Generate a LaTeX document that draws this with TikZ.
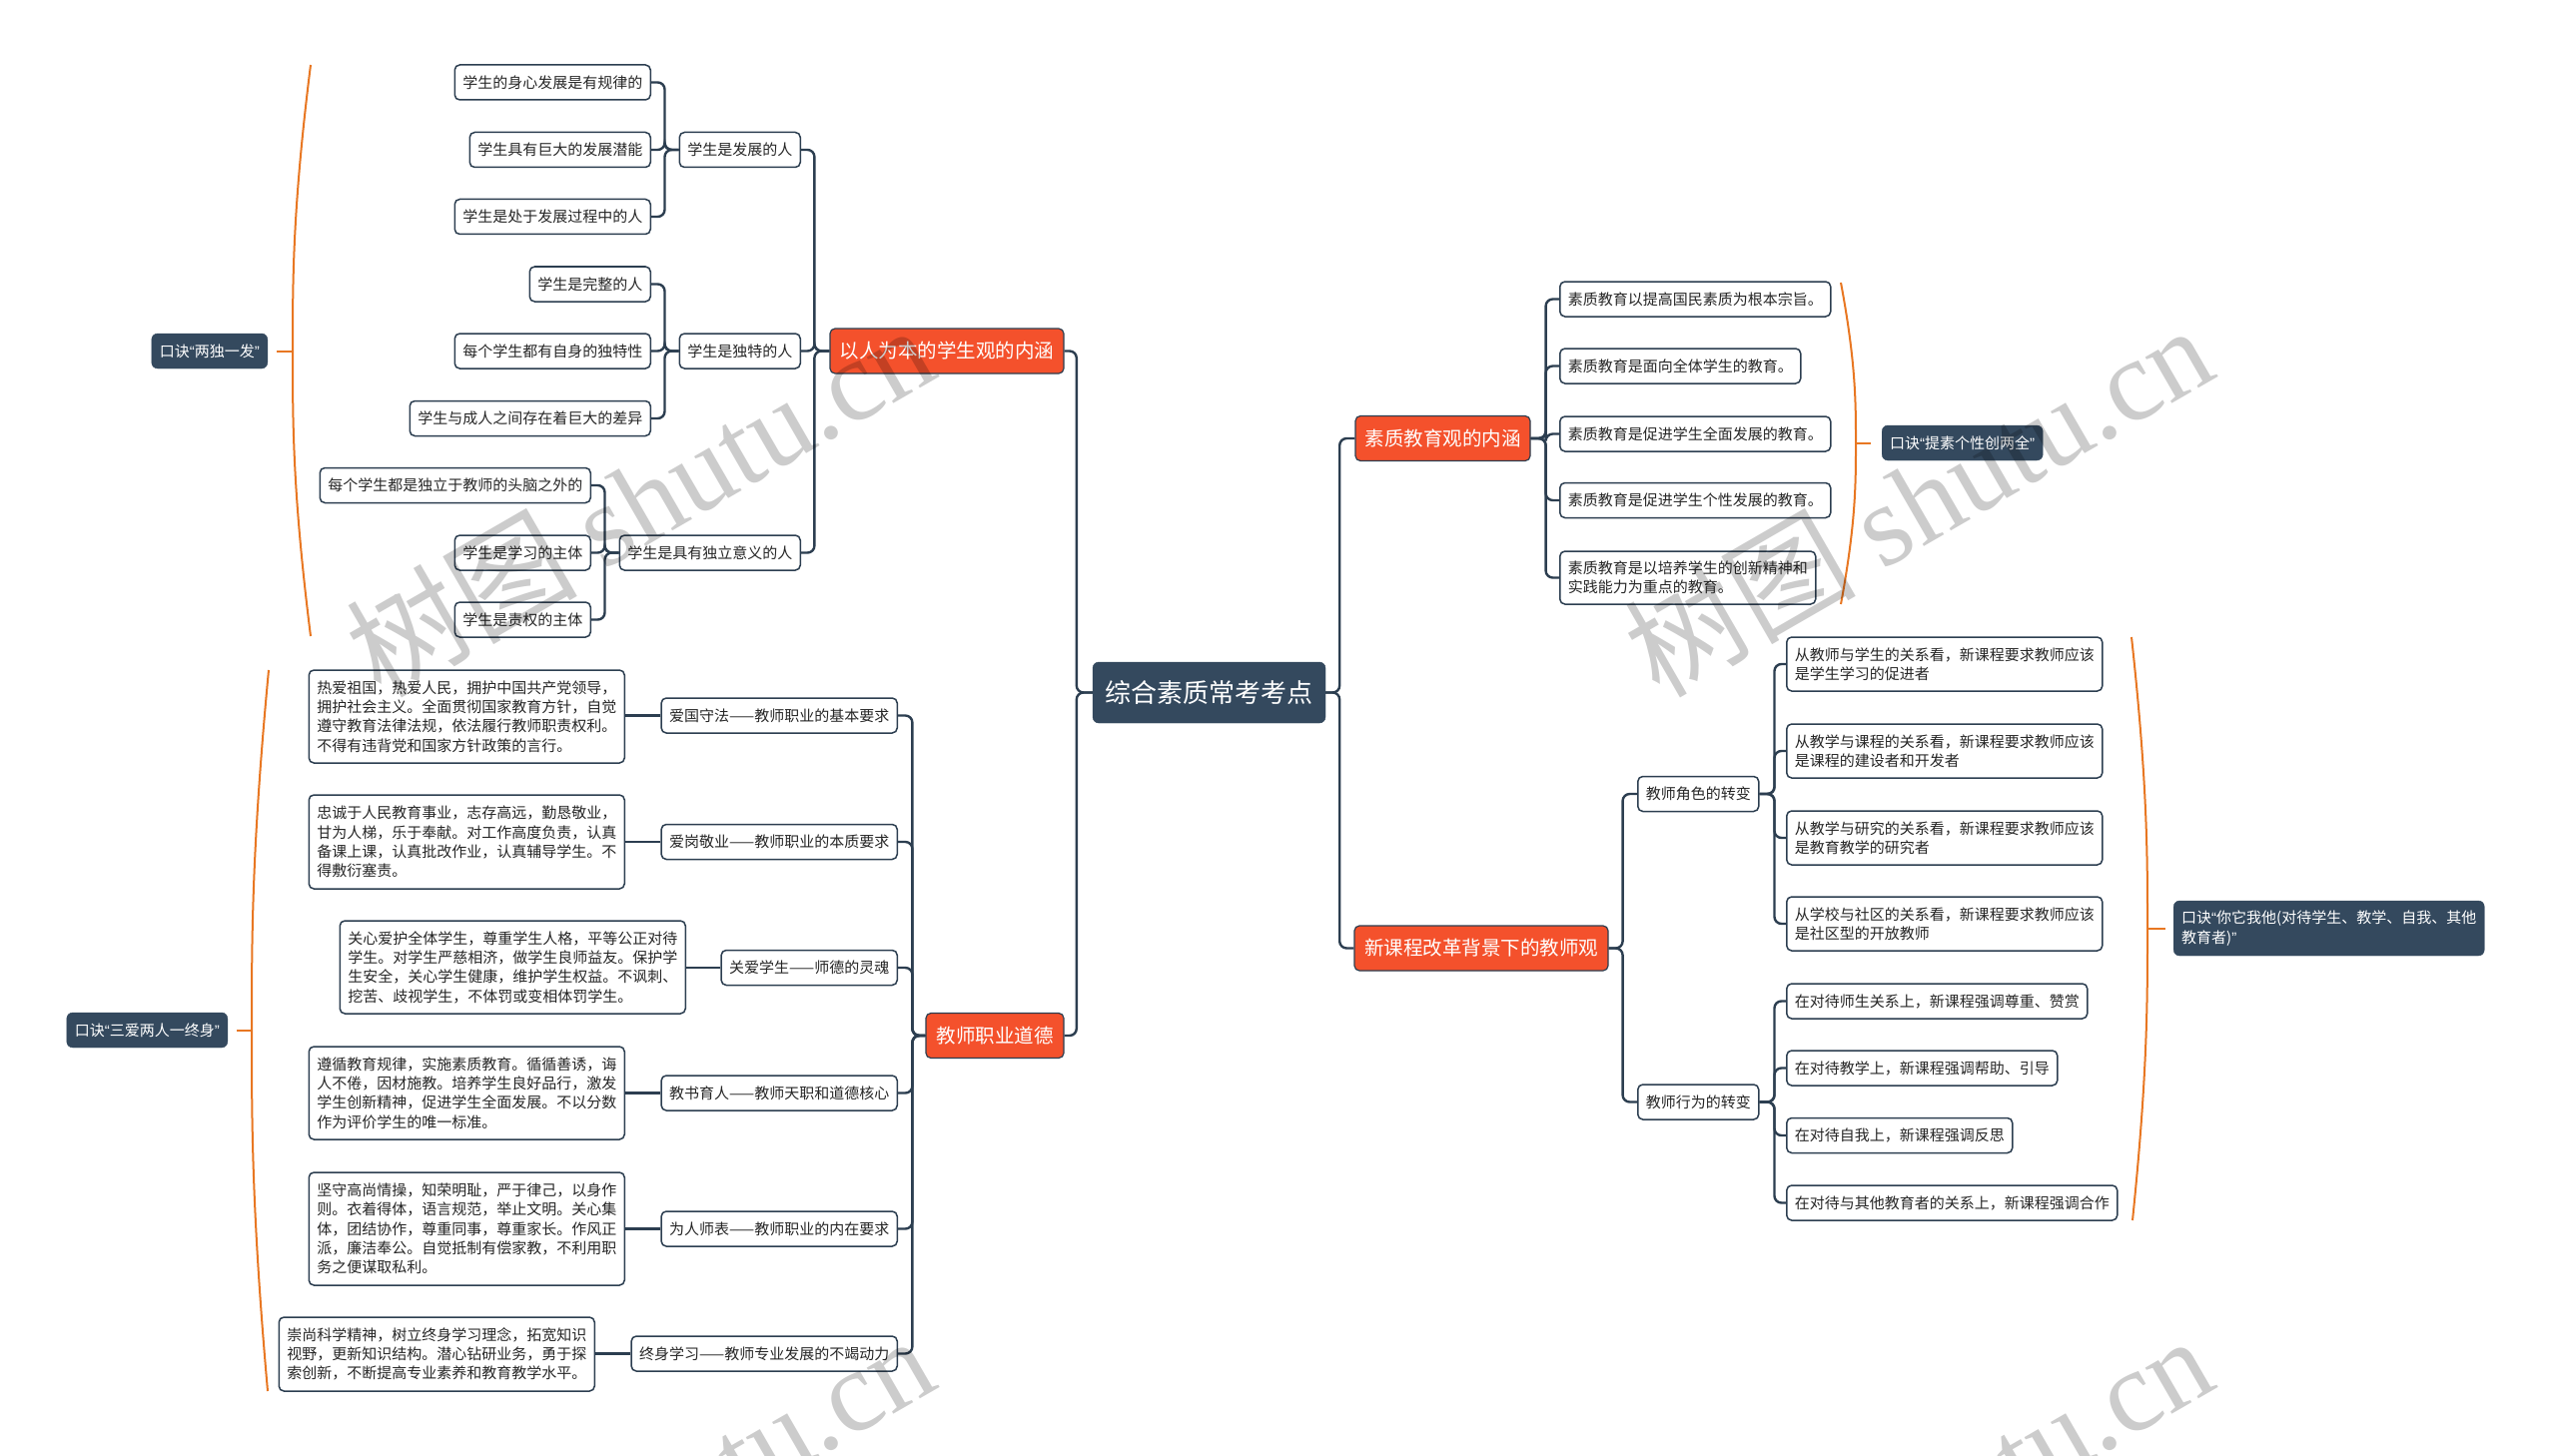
\documentclass[tikz,border=0pt]{standalone}
\usepackage{fontspec}
\setmainfont{Noto Sans CJK SC}
\newfontfamily\latq{Liberation Sans}
\newfontfamily\wmserif{Liberation Serif}
\definecolor{edge}{HTML}{2C3E50}
\definecolor{navy}{HTML}{34495E}
\definecolor{hot}{HTML}{F4512C}
\definecolor{brace}{HTML}{E87722}
\newcommand{\qopen}{{\latq “}}
\newcommand{\qclose}{{\latq ”}}
\tikzset{
  conn/.style={draw=edge, line width=2.4pt, rounded corners=7pt},
  leaf/.style={draw=edge, line width=1.5pt, rounded corners=5pt, fill=white, inner xsep=8pt, inner ysep=0pt, minimum height=35pt, align=left, font=\fontsize{15}{19.3}\selectfont, text=black!85},
  main/.style={draw=edge, line width=1.2pt, rounded corners=5pt, fill=hot, text=white, font=\fontsize{19.5}{24}\selectfont, inner sep=0pt, minimum height=45pt},
  rootbox/.style={draw=navy, fill=navy, rounded corners=6pt, text=white, font=\fontsize{26}{30}\selectfont, inner sep=0pt},
  sumbox/.style={draw=navy, fill=navy, text=white, rounded corners=6pt, inner xsep=8pt, inner ysep=0pt, minimum height=35pt, align=left, font=\fontsize{15}{19.3}\selectfont},
  bracket/.style={draw=brace, line width=2pt},
  wm/.style={text=black, opacity=0.2, font=\fontsize{116}{116}\selectfont, inner sep=0pt}
}
\begin{document}
\begin{tikzpicture}[x=1pt,y=-1pt]
\fill[white] (0,0) rectangle (2560,1458);
\useasboundingbox (0,0) rectangle (2560,1458);
\clip (0,0) rectangle (2560,1458);

% root and main branches
\node[rootbox, minimum width=233pt, minimum height=61pt] (R) at (1210.5,693.5) {综合素质常考考点};
\node[main, minimum width=234pt] (A) at (948,351.5) {以人为本的学生观的内涵};
\node[main, minimum width=138pt] (D) at (996,1037) {教师职业道德};
\node[main, minimum width=175pt] (B) at (1444.5,439) {素质教育观的内涵};
\node[main, minimum width=254pt] (C) at (1483,949.5) {新课程改革背景下的教师观};

% A subtree
\node[leaf, anchor=east] (A1) at (802,150) {学生是发展的人};
\node[leaf, anchor=east] (A2) at (802,351.5) {学生是独特的人};
\node[leaf, anchor=east] (A3) at (802,553.5) {学生是具有独立意义的人};
\node[leaf, anchor=east] (a11) at (652,82.5) {学生的身心发展是有规律的};
\node[leaf, anchor=east] (a12) at (652,150) {学生具有巨大的发展潜能};
\node[leaf, anchor=east] (a13) at (652,217) {学生是处于发展过程中的人};
\node[leaf, anchor=east] (a21) at (652,284.5) {学生是完整的人};
\node[leaf, anchor=east] (a22) at (652,351.5) {每个学生都有自身的独特性};
\node[leaf, anchor=east] (a23) at (652,419) {学生与成人之间存在着巨大的差异};
\node[leaf, anchor=east] (a31) at (592,486) {每个学生都是独立于教师的头脑之外的};
\node[leaf, anchor=east] (a32) at (592,553.5) {学生是学习的主体};
\node[leaf, anchor=east] (a33) at (592,620.5) {学生是责权的主体};

% D subtree
\node[leaf, anchor=east] (D1) at (899,716.5) {爱国守法——教师职业的基本要求};
\node[leaf, anchor=east] (D2) at (899,843) {爱岗敬业——教师职业的本质要求};
\node[leaf, anchor=east] (D3) at (899,969) {关爱学生——师德的灵魂};
\node[leaf, anchor=east] (D4) at (899,1094.5) {教书育人——教师天职和道德核心};
\node[leaf, anchor=east] (D5) at (899,1230.5) {为人师表——教师职业的内在要求};
\node[leaf, anchor=east] (D6) at (899,1355.5) {终身学习——教师专业发展的不竭动力};
\node[leaf, anchor=east, minimum height=93pt] (D1t) at (626,717.5) {热爱祖国，热爱人民，拥护中国共产党领导，\\拥护社会主义。全面贯彻国家教育方针，自觉\\遵守教育法律法规，依法履行教师职责权利。\\不得有违背党和国家方针政策的言行。};
\node[leaf, anchor=east, minimum height=94pt] (D2t) at (626,843) {忠诚于人民教育事业，志存高远，勤恳敬业，\\甘为人梯，乐于奉献。对工作高度负责，认真\\备课上课，认真批改作业，认真辅导学生。不\\得敷衍塞责。};
\node[leaf, anchor=east, minimum height=93pt] (D3t) at (687,968.5) {关心爱护全体学生，尊重学生人格，平等公正对待\\学生。对学生严慈相济，做学生良师益友。保护学\\生安全，关心学生健康，维护学生权益。不讽刺、\\挖苦、歧视学生，不体罚或变相体罚学生。};
\node[leaf, anchor=east, minimum height=93pt] (D4t) at (626,1094.5) {遵循教育规律，实施素质教育。循循善诱，诲\\人不倦，因材施教。培养学生良好品行，激发\\学生创新精神，促进学生全面发展。不以分数\\作为评价学生的唯一标准。};
\node[leaf, anchor=east, minimum height=113pt] (D5t) at (626,1230.5) {坚守高尚情操，知荣明耻，严于律己，以身作\\则。衣着得体，语言规范，举止文明。关心集\\体，团结协作，尊重同事，尊重家长。作风正\\派，廉洁奉公。自觉抵制有偿家教，不利用职\\务之便谋取私利。};
\node[leaf, anchor=east, minimum height=74pt] (D6t) at (596,1356) {崇尚科学精神，树立终身学习理念，拓宽知识\\视野，更新知识结构。潜心钻研业务，勇于探\\索创新，不断提高专业素养和教育教学水平。};

% B subtree
\node[leaf, anchor=west] (B1) at (1561,299.5) {素质教育以提高国民素质为根本宗旨。};
\node[leaf, anchor=west] (B2) at (1561,366.5) {素质教育是面向全体学生的教育。};
\node[leaf, anchor=west] (B3) at (1561,434.5) {素质教育是促进学生全面发展的教育。};
\node[leaf, anchor=west] (B4) at (1561,501) {素质教育是促进学生个性发展的教育。};
\node[leaf, anchor=west, minimum height=53pt] (B5) at (1561,578.5) {素质教育是以培养学生的创新精神和\\实践能力为重点的教育。};

% C subtree
\node[leaf, anchor=west] (C1) at (1639,795) {教师角色的转变};
\node[leaf, anchor=west] (C2) at (1639,1103.5) {教师行为的转变};
\node[leaf, anchor=west, minimum height=54pt] (c11) at (1788,665) {从教师与学生的关系看，新课程要求教师应该\\是学生学习的促进者};
\node[leaf, anchor=west, minimum height=54pt] (c12) at (1788,752) {从教学与课程的关系看，新课程要求教师应该\\是课程的建设者和开发者};
\node[leaf, anchor=west, minimum height=54pt] (c13) at (1788,839) {从教学与研究的关系看，新课程要求教师应该\\是教育教学的研究者};
\node[leaf, anchor=west, minimum height=54pt] (c14) at (1788,925) {从学校与社区的关系看，新课程要求教师应该\\是社区型的开放教师};
\node[leaf, anchor=west] (c21) at (1788,1002.5) {在对待师生关系上，新课程强调尊重、赞赏};
\node[leaf, anchor=west] (c22) at (1788,1069.5) {在对待教学上，新课程强调帮助、引导};
\node[leaf, anchor=west] (c23) at (1788,1137) {在对待自我上，新课程强调反思};
\node[leaf, anchor=west] (c24) at (1788,1204.5) {在对待与其他教育者的关系上，新课程强调合作};

% summaries
\node[sumbox, anchor=east] (S1) at (268,351.5) {口诀\qopen 两独一发\qclose};
\node[sumbox, anchor=east] (S2) at (228,1031.5) {口诀\qopen 三爱两人一终身\qclose};
\node[sumbox, anchor=west] (S3) at (1884,443.5) {口诀\qopen 提素个性创两全\qclose};
\node[sumbox, anchor=west, minimum height=55pt] (S4) at (2176,929.5) {口诀\qopen 你它我他(对待学生、教学、自我、其他\\教育者)\qclose};

% connectors
\foreach \n in {A,D} \draw[conn] (R.west) -- ++(-16,0) |- (\n.east);
\foreach \n in {B,C} \draw[conn] (R.east) -- ++(14,0) |- (\n.west);
\foreach \n in {A1,A2,A3} \draw[conn] (A.west) -- ++(-15,0) |- (\n.east);
\foreach \n in {a11,a12,a13} \draw[conn] (A1.west) -- ++(-14,0) |- (\n.east);
\foreach \n in {a21,a22,a23} \draw[conn] (A2.west) -- ++(-14,0) |- (\n.east);
\foreach \n in {a31,a32,a33} \draw[conn] (A3.west) -- ++(-14,0) |- (\n.east);
\foreach \n in {1,...,6} {
  \draw[conn] (D.west) -- ++(-13,0) |- (D\n.east);
  \draw[conn] (D\n.west) -- (D\n t.east |- D\n.west);
}
\foreach \n in {B1,B2,B3,B4,B5} \draw[conn] (B.east) -- ++(15,0) |- (\n.west);
\foreach \n in {C1,C2} \draw[conn] (C.east) -- ++(14,0) |- (\n.west);
\foreach \n in {c11,c12,c13,c14} \draw[conn] (C1.east) -- ++(15,0) |- (\n.west);
\foreach \n in {c21,c22,c23,c24} \draw[conn] (C2.east) -- ++(15,0) |- (\n.west);

% summary brackets
\coordinate (b1t) at (311,65); \coordinate (b1m) at (293,351.5); \coordinate (b1b) at (311,637);
\draw[bracket] (b1t) .. controls (293,208) and (293,280) .. (b1m) .. controls (293,423) and (293,494) .. (b1b);
\draw[bracket, shorten >=9pt] (b1m) -- (S1.east |- b1m);
\coordinate (b2t) at (269,671); \coordinate (b2m) at (252,1031.5); \coordinate (b2b) at (268,1393);
\draw[bracket] (b2t) .. controls (252,851) and (252,941) .. (b2m) .. controls (252,1122) and (252,1212) .. (b2b);
\draw[bracket, shorten >=9pt] (b2m) -- (S2.east |- b2m);
\coordinate (b3t) at (1843,283); \coordinate (b3m) at (1858,443.5); \coordinate (b3b) at (1843,605);
\draw[bracket] (b3t) .. controls (1858,363) and (1858,403) .. (b3m) .. controls (1858,484) and (1858,524) .. (b3b);
\draw[bracket, shorten >=11pt] (b3m) -- (S3.west |- b3m);
\coordinate (b4t) at (2134,638); \coordinate (b4m) at (2150,929.5); \coordinate (b4b) at (2135,1222);
\draw[bracket] (b4t) .. controls (2150,784) and (2150,857) .. (b4m) .. controls (2150,1003) and (2150,1076) .. (b4b);
\draw[bracket, shorten >=8pt] (b4m) -- (S4.west |- b4m);

% watermark
\node[wm, rotate=30] (w1) at (640,500) {树图 {\wmserif shutu.cn}};
\node[wm, rotate=30] (w2) at (1920,500) {树图 {\wmserif shutu.cn}};
\node[wm, rotate=30] (w3) at (640,1512) {树图 {\wmserif shutu.cn}};
\node[wm, rotate=30] (w4) at (1920,1512) {树图 {\wmserif shutu.cn}};
\end{tikzpicture}
\end{document}
